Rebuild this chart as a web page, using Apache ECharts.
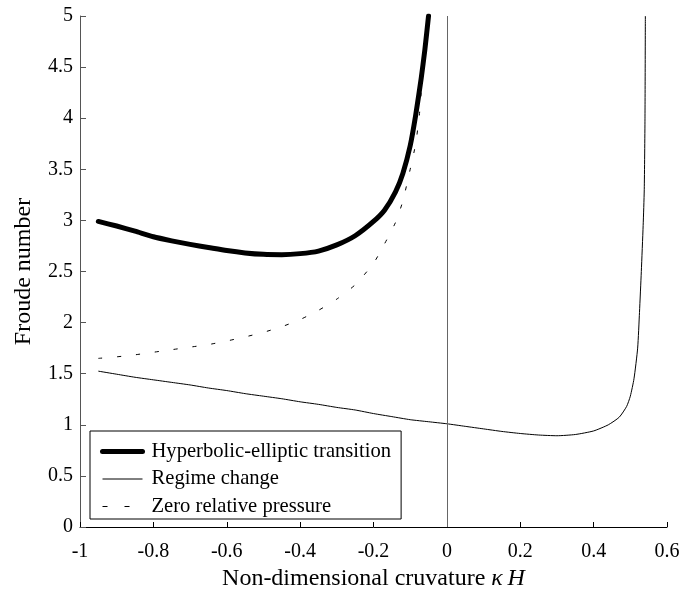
<!DOCTYPE html>
<html>
<head>
<meta charset="utf-8">
<script src="https://cdn.jsdelivr.net/npm/echarts@6/dist/echarts.min.js"></script>
<style>
  html, body { margin: 0; padding: 0; background: #fff; }
  #chart { width: 680px; height: 592px; }
</style>
</head>
<body>
<div id="chart"></div>
<script>
// hyperbolic-elliptic transition (thick line)
var heX = [-0.95, -0.90, -0.85, -0.80, -0.75, -0.70, -0.65, -0.60, -0.55, -0.50, -0.45, -0.40,
           -0.35, -0.30, -0.25, -0.20, -0.17, -0.14, -0.12, -0.10, -0.085, -0.07, -0.06, -0.05];
var heY = [2.99, 2.945, 2.895, 2.84, 2.80, 2.765, 2.735, 2.705, 2.682, 2.668, 2.665, 2.675,
           2.70, 2.76, 2.85, 2.99, 3.10, 3.28, 3.46, 3.73, 4.03, 4.39, 4.67, 5.0];

// regime change (thin line)
var rcX = [-0.95, -0.90, -0.85, -0.80, -0.75, -0.70, -0.65, -0.60, -0.55, -0.50, -0.45, -0.40,
           -0.35, -0.30, -0.25, -0.20, -0.15, -0.10, -0.05, 0, 0.05, 0.10, 0.15, 0.20, 0.25,
           0.30, 0.35, 0.40, 0.44, 0.47, 0.49, 0.50, 0.51, 0.52, 0.525, 0.53, 0.535, 0.538, 0.54, 0.541];
var rcY = [1.525, 1.495, 1.465, 1.44, 1.415, 1.39, 1.36, 1.335, 1.305, 1.28, 1.255, 1.225,
           1.20, 1.17, 1.145, 1.11, 1.08, 1.05, 1.03, 1.01, 0.985, 0.96, 0.935, 0.915, 0.90,
           0.893, 0.905, 0.94, 1.0, 1.075, 1.18, 1.28, 1.45, 1.75, 2.1, 2.5, 2.95, 3.3, 4.0, 5.0];

// zero relative pressure (dashed)
var zpX = [-0.95, -0.90, -0.85, -0.80, -0.75, -0.70, -0.65, -0.60, -0.55, -0.50, -0.45, -0.40,
           -0.35, -0.30, -0.25, -0.20, -0.17, -0.14, -0.12, -0.10, -0.085, -0.075, -0.07];
var zpY = [1.65, 1.665, 1.685, 1.71, 1.735, 1.76, 1.785, 1.82, 1.86, 1.905, 1.96, 2.03,
           2.12, 2.23, 2.37, 2.58, 2.77, 2.98, 3.19, 3.50, 3.75, 4.03, 4.25];

var xTicks = [-1, -0.8, -0.6, -0.4, -0.2, 0, 0.2, 0.4, 0.6];
var yTicks = [0, 0.5, 1, 1.5, 2, 2.5, 3, 3.5, 4, 4.5, 5];

function pairs(xs, ys) {
    return xs.map(function (x, i) { return [x, ys[i]]; });
}

var font = 'Liberation Serif';
var chart = echarts.init(document.getElementById('chart'));

var option = {
    animation: false,
    backgroundColor: '#fff',
    grid: { left: 80, right: 13, top: 16, bottom: 65, outerBoundsMode: 'none' },
    legend: {
        data: [
            { name: 'Hyperbolic-elliptic transition', lineStyle: { width: 5, cap: 'round', color: '#000' } },
            { name: 'Regime change', lineStyle: { width: 1, color: '#000' } },
            { name: 'Zero relative pressure', lineStyle: { width: 1, color: '#000', type: [5, 17] } }
        ],
        orient: 'vertical',
        left: 90,
        top: 431,
        itemWidth: 40,
        itemHeight: 20,
        itemGap: 6.5,
        padding: [10, 10, 2, 10],
        borderColor: '#000',
        borderWidth: 1,
        backgroundColor: '#fff',
        itemStyle: { opacity: 0 },
        textStyle: { fontFamily: font, fontSize: 20.6, color: '#000', padding: [0, 0, 0, 4] }
    },
    xAxis: {
        type: 'value',
        min: -1,
        max: 0.6,
        interval: 0.2,
        name: 'Non-dimensional cruvature {i|κ\u2009H}',
        nameLocation: 'middle',
        nameGap: 40,
        nameTextStyle: {
            fontFamily: font, fontSize: 24, color: '#000',
            rich: { i: { fontFamily: font, fontSize: 24, fontStyle: 'italic', color: '#000' } }
        },
        splitLine: { show: false },
        axisLine: { onZero: false, lineStyle: { color: '#000', width: 1 } },
        axisTick: { inside: true, length: 5, lineStyle: { color: '#000' }, customValues: xTicks },
        axisLabel: { fontFamily: font, fontSize: 20, color: '#000', margin: 15, customValues: xTicks }
    },
    yAxis: {
        type: 'value',
        min: 0,
        max: 5,
        interval: 0.5,
        name: 'Froude number',
        nameLocation: 'middle',
        nameRotate: 90,
        nameGap: 44,
        nameTextStyle: { fontFamily: font, fontSize: 24, color: '#000' },
        splitLine: { show: false },
        axisLine: { show: true, onZero: false, lineStyle: { color: '#555', width: 1 } },
        axisTick: { show: true, inside: true, length: 6, lineStyle: { color: '#555' }, customValues: yTicks },
        axisLabel: { fontFamily: font, fontSize: 20, color: '#000', margin: 7, customValues: yTicks }
    },
    series: [
        {
            name: 'Regime change',
            type: 'line',
            data: pairs(rcX, rcY),
            symbol: 'none',
            smooth: 0.2,
            z: 2,
            lineStyle: { color: '#000', width: 1 },
            itemStyle: { color: '#000' },
            markLine: {
                silent: true,
                symbol: ['none', 'none'],
                label: { show: false },
                lineStyle: { color: '#666', width: 1, type: 'solid' },
                data: [{ xAxis: 0 }]
            }
        },
        {
            name: 'Zero relative pressure',
            type: 'line',
            data: pairs(zpX, zpY),
            symbol: 'none',
            smooth: 0.2,
            z: 3,
            lineStyle: { color: '#000', width: 1, type: [4, 15] },
            itemStyle: { color: '#000' }
        },
        {
            name: 'Hyperbolic-elliptic transition',
            type: 'line',
            data: pairs(heX, heY),
            symbol: 'none',
            smooth: 0.2,
            z: 4,
            lineStyle: { color: '#000', width: 5, cap: 'round', join: 'round' },
            itemStyle: { color: '#000' }
        }
    ]
};

chart.setOption(option);
</script>
</body>
</html>
